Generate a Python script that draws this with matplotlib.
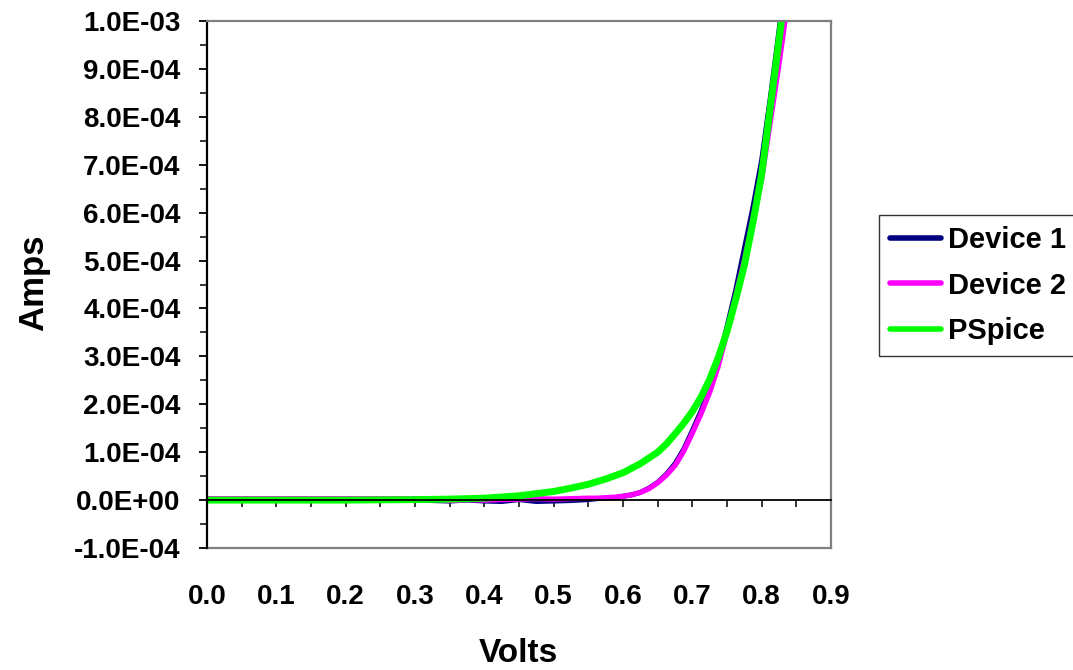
import matplotlib
matplotlib.use("Agg")
import matplotlib.pyplot as plt
from matplotlib.ticker import MultipleLocator, FuncFormatter, FormatStrFormatter

plt.rcParams['font.family'] = ['Liberation Sans', 'DejaVu Sans']
plt.rcParams['font.weight'] = 'bold'

# ---- data (Volts / Amps) ----
dev_v = [0.0, 0.025, 0.05, 0.075, 0.1, 0.125, 0.15, 0.175, 0.2, 0.225, 0.25,
         0.275, 0.3, 0.325, 0.35, 0.375, 0.4, 0.425, 0.45, 0.475, 0.5, 0.525,
         0.55, 0.5625, 0.575, 0.5875, 0.6, 0.6125, 0.625, 0.6375, 0.65, 0.6625,
         0.675, 0.6875, 0.7, 0.7125, 0.725, 0.7375, 0.75, 0.7625, 0.775,
         0.7875, 0.8, 0.8125, 0.825, 0.8375]

dev1_i = [1e-6, 1e-6, 2e-6, 1e-6, 1e-6, 2e-6, 1e-6, 2e-6, 1e-6, 1e-6, 2e-6,
          1e-6, 1e-6, -1e-6, -2e-6, 0.0, -2e-6, -3e-6, 1e-6, -3e-6, -2e-6, -1e-6,
          1e-6, 3e-6, 4e-6, 5e-6, 8e-6, 1.1e-5, 1.6e-5, 2.5e-5, 3.7e-5, 5.4e-5,
          7.6e-5, 1.06e-4, 1.45e-4, 1.86e-4, 2.33e-4, 2.9e-4, 3.62e-4, 4.38e-4, 5.25e-4,
          6.12e-4, 7.1e-4, 8.4e-4, 9.8e-4, 1.13e-3]

dev2_i = [3e-6, 3e-6, 3e-6, 3e-6, 3e-6, 3e-6, 3e-6, 3e-6, 3e-6, 3e-6, 3e-6,
          3e-6, 3e-6, 2e-6, -1e-6, 1e-6, 0.0, 1e-6, 2e-6, 3e-6, 2e-6, 3e-6,
          4e-6, 4e-6, 5e-6, 6e-6, 8e-6, 1.1e-5, 1.6e-5, 2.4e-5, 3.6e-5, 5.2e-5,
          7.2e-5, 1.02e-4, 1.4e-4, 1.8e-4, 2.25e-4, 2.8e-4, 3.5e-4, 4.25e-4, 5.0e-4,
          5.85e-4, 6.7e-4, 7.9e-4, 9.1e-4, 1.04e-3]

pspice_v = [0.0, 0.1, 0.2, 0.3, 0.35, 0.4, 0.45, 0.5, 0.525, 0.55, 0.575, 0.6,
            0.625, 0.65, 0.6625, 0.675, 0.6875, 0.7, 0.7125, 0.725, 0.7375, 0.75,
            0.7625, 0.775, 0.7875, 0.8, 0.8125, 0.825, 0.8375]
pspice_i = [0.0, 0.0, 0.0, 1e-6, 2e-6, 4e-6, 9e-6, 1.8e-5, 2.5e-5, 3.3e-5, 4.4e-5, 5.7e-5,
            7.6e-5, 1.0e-4, 1.17e-4, 1.38e-4, 1.6e-4, 1.85e-4, 2.15e-4, 2.52e-4, 2.98e-4, 3.52e-4,
            4.18e-4, 4.9e-4, 5.8e-4, 6.8e-4, 8.2e-4, 9.6e-4, 1.1e-3]

x_ticks = [0.0, 0.1, 0.2, 0.3, 0.4, 0.5, 0.6, 0.7, 0.8, 0.9]

fig = plt.figure(figsize=(10.73, 6.70), dpi=100)
ax = fig.add_axes([207 / 1073, 1 - 548 / 670, 624 / 1073, 527 / 670])

ax.plot(dev_v, dev1_i, color='#000080', lw=3.6, label='Device 1', solid_capstyle='round')
ax.plot(dev_v, dev2_i, color='#FF00FF', lw=3.8, label='Device 2', solid_capstyle='round')
ax.plot(pspice_v, pspice_i, color='#00FF00', lw=5.0, label='PSpice', solid_capstyle='round')

ax.set_xlim(0, 0.9)
ax.set_ylim(-1.0e-4, 1.0e-3)

# y axis like excel
ax.yaxis.set_major_locator(MultipleLocator(1e-4))
ax.yaxis.set_minor_locator(MultipleLocator(5e-5))
ax.yaxis.set_major_formatter(FuncFormatter(lambda v, p: f"{v:.1E}"))
ax.tick_params(axis='y', which='major', direction='out', length=6, width=1.3,
               labelsize=20, pad=13)
ax.tick_params(axis='y', which='minor', direction='out', length=5, width=1.1)

# x axis line sits at zero amps
ax.spines['bottom'].set_position(('data', 0))
ax.spines['bottom'].set_color('black')
ax.spines['bottom'].set_linewidth(1.3)
ax.set_xticks(x_ticks)
ax.xaxis.set_minor_locator(MultipleLocator(0.05))
ax.tick_params(axis='x', which='both', direction='out', length=5, width=1.1,
               labelbottom=False)

ax.spines['left'].set_color('black')
ax.spines['left'].set_linewidth(1.6)
for s in ['top', 'right']:
    ax.spines[s].set_color('#808080')
    ax.spines[s].set_linewidth(1.6)

# tick labels down at the bottom of the plot area
sec = ax.secondary_xaxis(0.0)
sec.set_xticks(x_ticks)
sec.xaxis.set_major_formatter(FormatStrFormatter('%.1f'))
sec.tick_params(axis='x', length=0, labelsize=20, pad=26)
sec.spines['bottom'].set_color('#808080')
sec.spines['bottom'].set_linewidth(1.6)

fig.text(34 / 1073, 1 - 283 / 670, 'Amps', rotation=90, ha='center', va='center',
         fontsize=25, fontweight='bold')
fig.text(518 / 1073, 1 - 662 / 670, 'Volts', ha='center', va='baseline',
         fontsize=24, fontweight='bold')

leg = fig.legend(loc='upper left', bbox_to_anchor=(879 / 1073, 1 - 215 / 670),
                 frameon=True, fancybox=False, edgecolor='black', fontsize=21,
                 handlelength=1.75, handletextpad=0.25, borderpad=0.38,
                 labelspacing=0.6, borderaxespad=0)
leg.get_frame().set_linewidth(1.0)
for line in leg.get_lines():
    line.set_linewidth(4.0)

fig.savefig('out.png', dpi=100)
